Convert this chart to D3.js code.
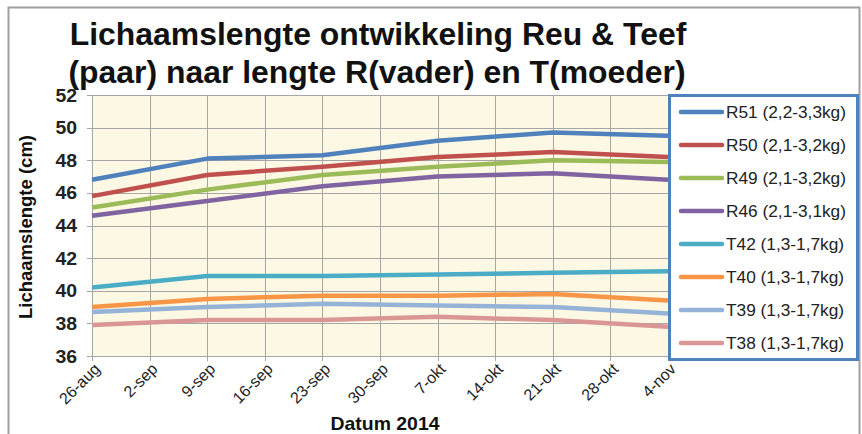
<!DOCTYPE html>
<html>
<head>
<meta charset="utf-8">
<script src="https://d3js.org/d3.v7.min.js"></script>
<style>
  body { margin: 0; background: #fff; }
  svg { font-family: Arial, "Liberation Sans", sans-serif; }
  .grid line { stroke: #a6a6a6; stroke-width: 1; }
  .series { fill: none; stroke-width: 4.5; stroke-linejoin: round; }
</style>
</head>
<body>
<svg id="chart" width="862" height="434"></svg>
<script>
  // data
  const dates = ["26-aug", "9-sep", "23-sep", "7-okt", "21-okt", "4-nov"]
  const tickLabels = ["26-aug", "2-sep", "9-sep", "16-sep", "23-sep", "30-sep", "7-okt", "14-okt", "21-okt", "28-okt", "4-nov"]
  const yTicks = [36, 38, 40, 42, 44, 46, 48, 50, 52]

  const seriesNames = ["R51 (2,2-3,3kg)", "R50 (2,1-3,2kg)", "R49 (2,1-3,2kg)", "R46 (2,1-3,1kg)",
                       "T42 (1,3-1,7kg)", "T40 (1,3-1,7kg)", "T39 (1,3-1,7kg)", "T38 (1,3-1,7kg)"]
  const R51 = [46.8, 48.1, 48.3, 49.2, 49.7, 49.5]
  const R50 = [45.8, 47.1, 47.6, 48.2, 48.5, 48.2]
  const R49 = [45.1, 46.2, 47.1, 47.6, 48.0, 47.9]
  const R46 = [44.6, 45.5, 46.4, 47.0, 47.2, 46.8]
  const T42 = [40.2, 40.9, 40.9, 41.0, 41.1, 41.2]
  const T40 = [39.0, 39.5, 39.7, 39.7, 39.8, 39.4]
  const T39 = [38.7, 39.0, 39.2, 39.1, 39.0, 38.6]
  const T38 = [37.9, 38.2, 38.2, 38.4, 38.2, 37.8]
  const colors = ["#4f81bd", "#c0504d", "#9bbb59", "#8064a2", "#4bacc6", "#f79646", "#95b3d7", "#d99694"]

  const allSeries = [R51, R50, R49, R46, T42, T40, T39, T38]

  const svg = d3.select("#chart")
  const plot = {left: 92, right: 668, top: 95, bottom: 356}
  const sx = 1.08  // the picture's text is a bit wider than Arial

  // outer frame
  svg.append("rect").attr("x", 8.5).attr("y", 7.5).attr("width", 851).attr("height", 440)
    .attr("fill", "#fff").attr("stroke", "#a0a0a0").attr("stroke-width", 2)

  const x = d3.scalePoint().domain(tickLabels).range([plot.left, plot.right])
  const y = d3.scaleLinear().domain([36, 52]).range([plot.bottom, plot.top])

  svg.append("rect")
    .attr("x", plot.left).attr("y", plot.top)
    .attr("width", plot.right - plot.left).attr("height", plot.bottom - plot.top)
    .attr("fill", "#fdf8e3")

  // grid
  const grid = svg.append("g").attr("class", "grid")
  grid.selectAll(".h").data(yTicks).join("line")
    .attr("x1", plot.left - 5).attr("x2", plot.right)
    .attr("y1", d => Math.round(y(d)) + 0.5).attr("y2", d => Math.round(y(d)) + 0.5)
  grid.selectAll(".v").data(tickLabels).join("line")
    .attr("x1", d => Math.round(x(d)) + 0.5).attr("x2", d => Math.round(x(d)) + 0.5)
    .attr("y1", plot.top).attr("y2", plot.bottom + 5)

  // y axis labels
  svg.append("g").selectAll("text").data(yTicks).join("text")
    .attr("transform", d => `translate(77,${y(d) + 6.5}) scale(${sx},1)`)
    .attr("text-anchor", "end").attr("font-size", 18).attr("font-weight", "bold")
    .attr("fill", "#222")
    .text(d => d)

  // x axis labels
  svg.append("g").selectAll("text").data(tickLabels).join("text")
    .attr("transform", d => `translate(${x(d) + 9},${plot.bottom + 14}) rotate(-45)`)
    .attr("text-anchor", "end").attr("font-size", 16).attr("fill", "#222")
    .text(d => d)

  // lines
  const line = d3.line().x((d, i) => x(dates[i])).y(d => y(d))
  svg.append("g").selectAll("path").data(allSeries).join("path")
    .attr("class", "series")
    .attr("stroke", (d, i) => colors[i])
    .attr("d", line)

  // titles
  svg.append("text").attr("transform", "translate(378,45) scale(1.03,1)")
    .attr("font-size", 31).attr("font-weight", "bold").attr("text-anchor", "middle").attr("fill", "#111")
    .text("Lichaamslengte  ontwikkeling  Reu & Teef")
  svg.append("text").attr("transform", "translate(377,83) scale(1.03,1)")
    .attr("font-size", 31).attr("font-weight", "bold").attr("text-anchor", "middle").attr("fill", "#111")
    .text("(paar) naar lengte R(vader) en T(moeder)")

  svg.append("text")
    .attr("transform", "translate(32,227) rotate(-90)")
    .attr("text-anchor", "middle").attr("font-size", 18.5).attr("font-weight", "bold").attr("fill", "#111")
    .text("Lichaamslengte (cm)")

  svg.append("text").attr("transform", `translate(385,430) scale(${sx},1)`)
    .attr("text-anchor", "middle").attr("font-size", 18).attr("font-weight", "bold").attr("fill", "#111")
    .text("Datum 2014")

  // legend
  const legend = svg.append("g")
  legend.append("rect").attr("x", 669.5).attr("y", 95.5).attr("width", 188).attr("height", 264)
    .attr("fill", "#fff").attr("stroke", "#4f81bd").attr("stroke-width", 3)
  const item = legend.selectAll("g").data(seriesNames).join("g")
    .attr("transform", (d, i) => `translate(0,${112 + i * 33})`)
  item.append("line").attr("x1", 681).attr("x2", 722)
    .attr("stroke", (d, i) => colors[i]).attr("stroke-width", 4.5).attr("stroke-linecap", "round")
  item.append("text").attr("transform", `translate(726,6) scale(${sx},1)`)
    .attr("font-size", 16).attr("fill", "#222")
    .text(d => d)
</script>
</body>
</html>
